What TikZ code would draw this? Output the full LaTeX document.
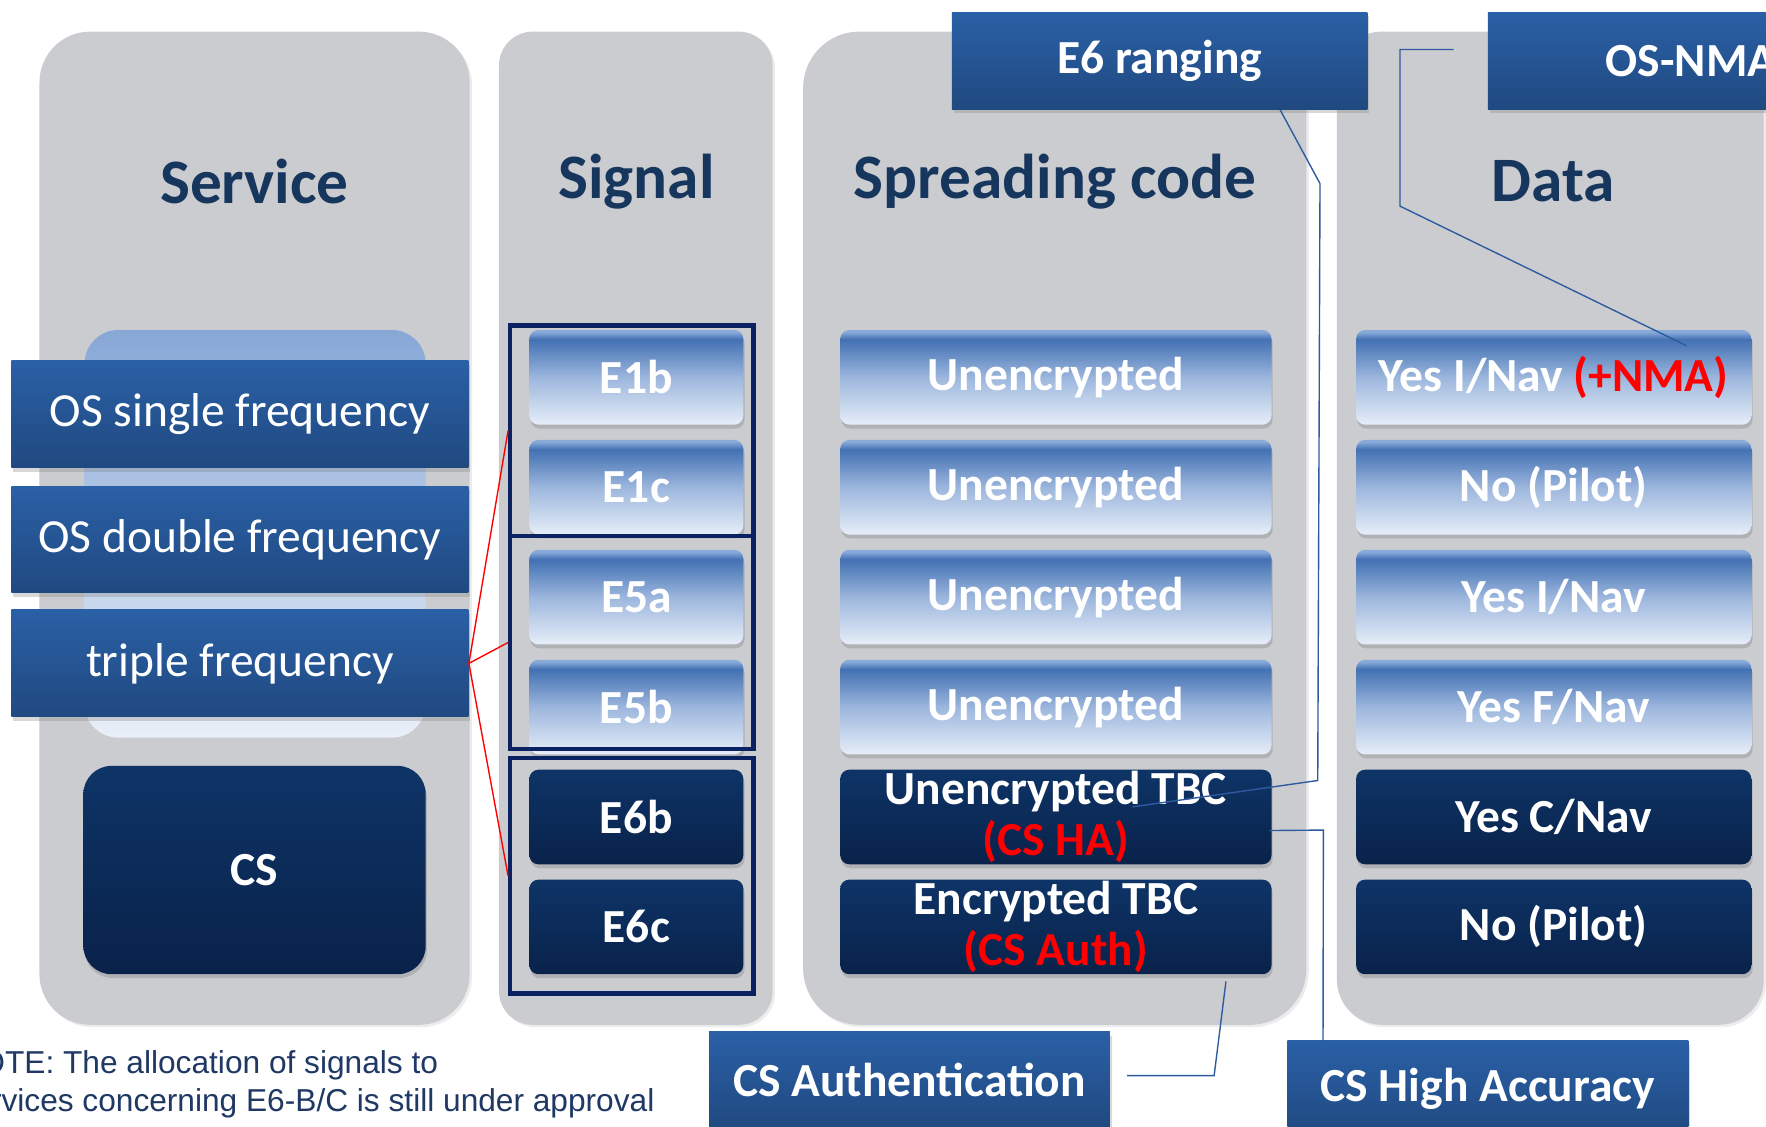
\documentclass[tikz,border=0pt]{standalone}
\usepackage{fontspec}
\setmainfont{Carlito}
\newfontfamily\notefont{Liberation Sans}
\usetikzlibrary{calc,shadows}

\definecolor{colgray}{HTML}{CBCCD0}
\definecolor{headblue}{HTML}{17365D}
\definecolor{notecol}{HTML}{1F3864}
\definecolor{boxtop}{HTML}{2A60A6}
\definecolor{boxbot}{HTML}{204980}
\definecolor{navytop}{HTML}{0E3467}
\definecolor{navybot}{HTML}{09224A}
\definecolor{framenavy}{HTML}{0B2262}
\definecolor{linkblue}{HTML}{2E5B9F}
\definecolor{btnrim}{HTML}{88AAD9}
\definecolor{btndeep}{HTML}{4271B3}
\definecolor{btnmid}{HTML}{9CB6DD}
\definecolor{btnlow}{HTML}{E6EEF8}
\definecolor{bgtop}{HTML}{87A7D6}
\definecolor{bgbot}{HTML}{E9EFF8}

% glassy button: rim on top, deep blue band, fading to white
\pgfdeclareverticalshading{glassbtn}{100bp}{color(0bp)=(btnlow); color(25bp)=(btnlow);
  color(50bp)=(btnmid); color(70bp)=(btndeep); color(74bp)=(btnrim); color(100bp)=(btnrim)}

\begin{document}
\begin{tikzpicture}[
    x=0.02cm, y=-0.02cm,
    colbox/.style={rectangle, fill=colgray, rounded corners=#1, inner sep=0pt,
      drop shadow={shadow xshift=1.2pt, shadow yshift=-1.2pt, opacity=.15}},
    heading/.style={text=headblue, font=\fontsize{32}{38}\selectfont\bfseries},
    svcbox/.style={rectangle, top color=boxtop, bottom color=boxbot, text=white,
      inner sep=0pt, minimum width=8.12cm, minimum height=1.9cm,
      font=\fontsize{24}{28}\selectfont,
      drop shadow={shadow xshift=1pt, shadow yshift=-2pt, opacity=.3}},
    callout/.style={svcbox, minimum width=7.12cm, minimum height=1.72cm,
      font=\fontsize{24}{28}\selectfont\bfseries},
    litebtn/.style={rectangle, rounded corners=0.16cm, shading=glassbtn, text=white,
      inner sep=0pt, minimum height=1.68cm, font=\fontsize{24}{28}\selectfont\bfseries,
      drop shadow={shadow xshift=0.6pt, shadow yshift=-2pt, opacity=.35}},
    navybtn/.style={litebtn, top color=navytop, bottom color=navybot},
    sigframe/.style={draw=framenavy, line width=2.2pt, minimum width=4.32cm, inner sep=0pt},
    link/.style={draw=linkblue, line width=0.7pt},
    redlink/.style={draw=red, line width=0.7pt},
    notetext/.style={text=notecol, font=\notefont\fontsize{16}{19}\selectfont, inner sep=0pt}
  ]
  \useasboundingbox (0,0) rectangle (1568,1000);
  \fill[white] (0,0) rectangle (1568,1000);
  \clip (0,0) rectangle (1568,1000);

  % the four columns
  \node[colbox=0.9cm, minimum width=7.64cm, minimum height=17.64cm] (svccol) at (226,469) {};
  \node[colbox=0.6cm, minimum width=4.86cm, minimum height=17.64cm] (sigcol) at (564.5,469) {};
  \node[colbox=1.0cm, minimum width=8.94cm, minimum height=17.64cm] (codecol) at (936.5,469) {};
  \node[colbox=0.8cm, minimum width=7.58cm, minimum height=17.64cm] (datcol) at (1376.5,469) {};

  \node[heading] (svchead) at (226,161) {Service};
  \node[heading] (sighead) at (565,161) {Signal};
  \node[heading] (codehead) at (937,161) {Spreading code};
  \node[heading] (dathead) at (1379,161) {Data};

  % services
  \node[rectangle, rounded corners=0.6cm, top color=bgtop, bottom color=bgbot,
    minimum width=6.06cm, minimum height=7.24cm] (osbg) at (226.5,474) {};
  \node[svcbox] (single) at (213,368) {OS single frequency};
  \node[svcbox] (double) at (213,479) {OS double frequency};
  \node[svcbox] (trip) at (213,589) {triple frequency};
  \node[navybtn, rounded corners=0.5cm, minimum width=6.08cm, minimum height=3.7cm] (cs) at (226,772.5) {CS};

  % signals
  \foreach \lbl [count=\i, evaluate=\i as \y using 335+97.6*(\i-1)] in {E1b,E1c,E5a,E5b}
    \node[litebtn, minimum width=3.8cm] (sig\i) at (565,\y) {\lbl};
  \node[navybtn, minimum width=3.8cm] (sig5) at (565,725.4) {E6b};
  \node[navybtn, minimum width=3.8cm] (sig6) at (565,823) {E6c};

  \node[sigframe, minimum height=3.74cm] (fr1) at (561,382.5) {};
  \node[sigframe, minimum height=3.78cm] (fr2) at (561,570.5) {};
  \node[sigframe, minimum height=4.18cm] (fr3) at (561,777.5) {};

  % spreading codes
  \foreach \i [evaluate=\i as \y using 335+97.6*(\i-1)] in {1,...,4}
    \node[litebtn, minimum width=7.66cm] (code\i) at (937.5,\y) {Unencrypted};
  \node[navybtn, minimum width=7.66cm, align=center, font=\fontsize{24}{26}\selectfont\bfseries]
    (cha) at (937.5,725.4) {Unencrypted TBC\\\textcolor{red}{(CS HA)}};
  \node[navybtn, minimum width=7.66cm, align=center, font=\fontsize{24}{26}\selectfont\bfseries]
    (enc) at (937.5,823) {Encrypted TBC\\\textcolor{red}{(CS Auth)}};

  % navigation data
  \node[litebtn, minimum width=7.02cm] (dat1) at (1379.5,335) {Yes I/Nav \textcolor{red}{(+NMA)}};
  \foreach \lbl [count=\i, evaluate=\i as \y using 432.6+97.6*(\i-1)] in {No (Pilot),Yes I/Nav,Yes F/Nav}
    \node[litebtn, minimum width=7.02cm] (dat\i x) at (1379.5,\y) {\lbl};
  \node[navybtn, minimum width=7.02cm] (dat5) at (1379.5,725.4) {Yes C/Nav};
  \node[navybtn, minimum width=7.02cm] (dat6) at (1379.5,823) {No (Pilot)};

  % call-outs
  \node[callout, minimum width=7.38cm] (e6r) at (1029.5,54) {E6 ranging};
  \node[callout, minimum width=7.22cm] (nma) at (1501.5,54) {OS-NMA};
  \node[callout] (csa) at (807.5,959) {CS Authentication};
  \node[callout] (csha) at (1321,967) {CS High Accuracy};

  \draw[link] ($(e6r.south)+(107,0)$) -- (1172,163) -- (1170,693) -- ($(cha.center)+(68,-9)$);
  \draw[link] ($(nma.west)+(-30,-10)$) -- (1243,44) -- (1243,183) -- ($(dat1.center)+(118,-28)$);
  \draw[link] ($(cha.east)+(-2,12)$) -- (1175,737) -- ($(csha.north west)+(32,0)$);
  \draw[link, opacity=.3] ($(csha.north west)+(32,0)$) -- +(46,23);
  \draw[link] ($(enc.south)+(151,6)$) -- (1078,955) -- ($(csa.east)+(15,-4)$);

  \foreach \f in {fr1,fr2,fr3}
    \draw[redlink] (trip.east) -- (\f.west);

  \node[notetext, anchor=base west] (note1) at (-38,953) {NOTE: The allocation of signals to};
  \node[notetext, anchor=base west] (note2) at (-38,987) {services concerning E6-B/C is still under approval};
\end{tikzpicture}
\end{document}
